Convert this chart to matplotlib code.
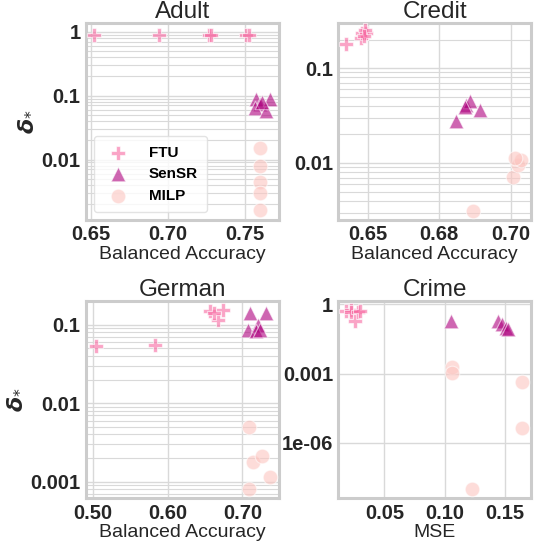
import numpy as np
import matplotlib
matplotlib.use("Agg")
import matplotlib.pyplot as plt
from matplotlib.ticker import FuncFormatter, NullFormatter, FormatStrFormatter

plt.rcParams["font.family"] = ["Liberation Sans", "DejaVu Sans"]

# colours per method (RdPu-like)
methods = ["FTU", "SenSR", "MILP"]
colors = {"FTU": "#f768a1", "SenSR": "#ae017e", "MILP": "#fcc5c0"}
markers = {"FTU": "P", "SenSR": "^", "MILP": "o"}

# ---- data ----
adult = {
    "FTU": ([0.652, 0.6945, 0.727, 0.728, 0.751, 0.753],
            [0.88, 0.88, 0.9, 0.88, 0.88, 0.9]),
    "SenSR": ([0.7576, 0.7597, 0.7565, 0.7641, 0.7662, 0.761],
              [0.09, 0.075, 0.063, 0.058, 0.09, 0.08]),
    "MILP": ([0.7602, 0.7602, 0.7602, 0.7602, 0.7602],
             [0.0154, 0.0078, 0.0044, 0.003, 0.0016]),
}
credit = {
    "FTU": ([0.6425, 0.6475, 0.648, 0.6495, 0.649, 0.6485],
            [0.18, 0.21, 0.235, 0.235, 0.25, 0.22]),
    "SenSR": ([0.6808, 0.6845, 0.6857, 0.6892, 0.684],
              [0.0274, 0.041, 0.0446, 0.036, 0.0394]),
    "MILP": ([0.6867, 0.7009, 0.7027, 0.7035, 0.7015],
             [0.0031, 0.0072, 0.0096, 0.0108, 0.0113]),
}
german = {
    "FTU": ([0.5045, 0.583, 0.6567, 0.6678, 0.6744, 0.662],
            [0.054, 0.0555, 0.148, 0.113, 0.155, 0.14]),
    "SenSR": ([0.7097, 0.7319, 0.7075, 0.7209, 0.7187, 0.723],
              [0.141, 0.141, 0.086, 0.1, 0.082, 0.086]),
    "MILP": ([0.709, 0.7142, 0.7267, 0.7364, 0.709],
             [0.005, 0.0018, 0.0021, 0.00116, 0.00082]),
}
crime = {
    "FTU": ([0.018, 0.022, 0.0225, 0.026, 0.028, 0.030],
            [0.5, 0.6, 0.45, 0.2, 0.45, 0.5]),
    "SenSR": ([0.105, 0.1447, 0.148, 0.1508, 0.153],
              [0.19, 0.19, 0.135, 0.097, 0.082]),
    "MILP": ([0.106, 0.106, 0.1646, 0.1646, 0.1227],
             [0.0019, 0.0011, 4.2e-4, 4.4e-6, 1e-8]),
}

titles = ["Adult", "Credit", "German", "Crime"]
datasets = [adult, credit, german, crime]
xlabels = ["Balanced Accuracy", "Balanced Accuracy", "Balanced Accuracy", "MSE"]
xticks = [[0.65, 0.70, 0.75], [0.65, 0.675, 0.70], [0.50, 0.60, 0.70], [0.05, 0.10, 0.15]]
xlims = [(0.6468, 0.772), (0.6397, 0.7071), (0.491, 0.7484), (0.0119, 0.1718)]
ylims = [(0.00115, 1.37), (0.00253, 0.30), (0.00062, 0.197), (4e-9, 1.35)]
crime_yticks = [1, 1e-3, 1e-6]

fig, axes = plt.subplots(2, 2, figsize=(5.38, 5.45), dpi=100)
fig.subplots_adjust(left=0.160, right=0.987, top=0.958, bottom=0.086,
                    wspace=0.311, hspace=0.416)

for i, ax in enumerate(axes.flat):
    data = datasets[i]
    for m in methods:
        xs, ys = data[m]
        ax.scatter(xs, ys, s=110, marker=markers[m], color=colors[m], alpha=0.6,
                   edgecolor="white", linewidth=0.8, label=m, zorder=3)
    ax.set_yscale("log")
    ax.set_xlim(*xlims[i])
    ax.set_ylim(*ylims[i])
    ax.set_xticks(xticks[i])
    ax.xaxis.set_major_formatter(FormatStrFormatter("%.2f"))
    if titles[i] == "Crime":
        ax.set_yticks(crime_yticks)
        ax.yaxis.set_minor_locator(matplotlib.ticker.NullLocator())
    ax.yaxis.set_major_formatter(FuncFormatter(lambda v, p: "{:g}".format(v)))
    ax.yaxis.set_minor_formatter(NullFormatter())

    ax.set_axisbelow(True)
    ax.grid(True, which="major", color="#d9d9d9", linewidth=1.0)
    ax.grid(True, which="minor", axis="y", color="#d9d9d9", linewidth=0.8)
    ax.tick_params(which="both", length=0, labelsize=14.5, pad=4)
    for lab in ax.get_xticklabels() + ax.get_yticklabels():
        lab.set_fontweight("bold")
        lab.set_color("#262626")
    for sp in ax.spines.values():
        sp.set_color("#cccccc")
        sp.set_linewidth(2.2)

    ax.set_title(titles[i], fontsize=17.5, pad=-3, color="#262626")
    ax.set_xlabel(xlabels[i], fontsize=14, labelpad=1, color="#262626")
    if i % 2 == 0:
        ax.set_ylabel(r"$\mathbfit{\delta}_{*}$", fontsize=16, color="#262626")

leg = axes[0, 0].legend(loc="lower left", prop={"weight": "bold", "size": 11},
                        frameon=True, borderpad=0.6, handletextpad=1.0,
                        labelspacing=0.5)
leg.get_frame().set_edgecolor("#dddddd")
leg.get_frame().set_alpha(0.8)

fig.savefig("out.png", dpi=100)
